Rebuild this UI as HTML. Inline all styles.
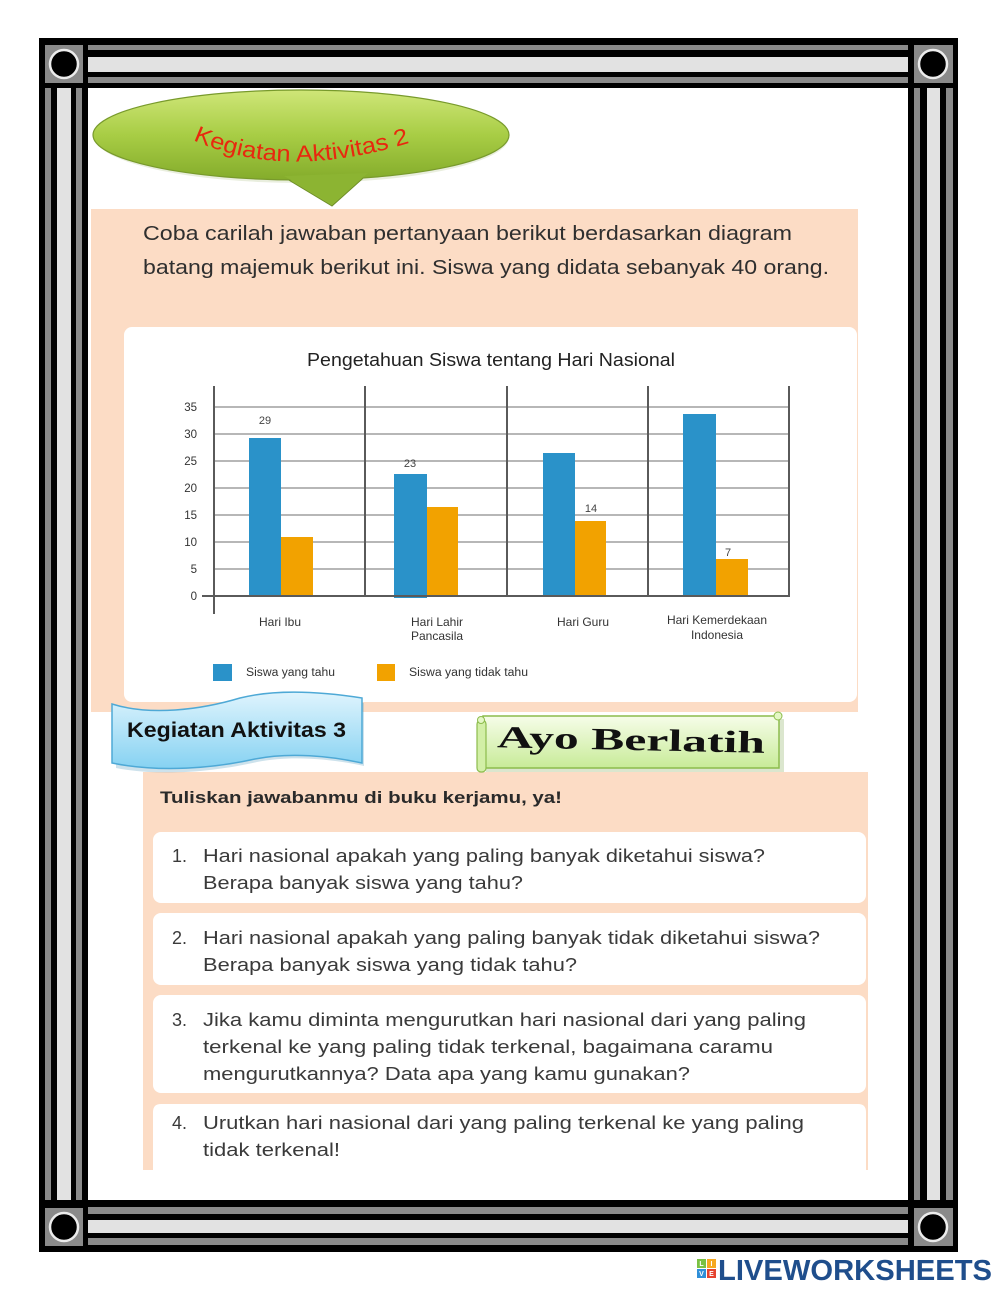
<!DOCTYPE html>
<html>
<head>
<meta charset="utf-8">
<style>
html,body{margin:0;padding:0;background:#fff;}
body{width:1000px;height:1291px;overflow:hidden;}
svg{display:block;}
</style>
</head>
<body>
<svg width="1000" height="1291" viewBox="0 0 1000 1291" xmlns="http://www.w3.org/2000/svg">
<defs>
  <linearGradient id="gOval" x1="0" y1="0" x2="0" y2="1">
    <stop offset="0" stop-color="#cfe678"/>
    <stop offset="0.5" stop-color="#a8cd45"/>
    <stop offset="1" stop-color="#84ac2b"/>
  </linearGradient>
  <linearGradient id="gBlue" x1="0" y1="0" x2="0" y2="1">
    <stop offset="0" stop-color="#dff4fd"/>
    <stop offset="1" stop-color="#86d2f2"/>
  </linearGradient>
  <linearGradient id="gGreen" x1="0" y1="0" x2="0" y2="1">
    <stop offset="0" stop-color="#f6fde9"/>
    <stop offset="1" stop-color="#c8eb98"/>
  </linearGradient>
  <path id="arc2" d="M193,140 Q285,182 412,142"/>
</defs>

<!-- ===== Border frame ===== -->
<rect x="39" y="38" width="919" height="1214" fill="#000"/>
<rect x="88" y="88" width="820" height="1112" fill="#fff"/>
<rect x="88" y="45" width="820" height="5" fill="#8a8a8a"/>
<rect x="88" y="57" width="820" height="15" fill="#e2e2e2"/>
<rect x="88" y="77" width="820" height="6" fill="#8a8a8a"/>
<rect x="88" y="1207" width="820" height="7" fill="#8a8a8a"/>
<rect x="88" y="1220" width="820" height="13" fill="#e2e2e2"/>
<rect x="88" y="1238" width="820" height="7" fill="#8a8a8a"/>
<rect x="45" y="88" width="6" height="1112" fill="#8a8a8a"/>
<rect x="57" y="88" width="14" height="1112" fill="#e2e2e2"/>
<rect x="76" y="88" width="6" height="1112" fill="#8a8a8a"/>
<rect x="914" y="88" width="6" height="1112" fill="#8a8a8a"/>
<rect x="927" y="88" width="13" height="1112" fill="#e2e2e2"/>
<rect x="946" y="88" width="7" height="1112" fill="#8a8a8a"/>
<rect x="45" y="45" width="38" height="38" fill="#8a8a8a"/>
<rect x="914" y="45" width="39" height="38" fill="#8a8a8a"/>
<rect x="45" y="1208" width="38" height="38" fill="#8a8a8a"/>
<rect x="914" y="1208" width="39" height="38" fill="#8a8a8a"/>
<circle cx="64" cy="64" r="14" fill="#000" stroke="#ececec" stroke-width="2.5"/>
<circle cx="933" cy="64" r="14" fill="#000" stroke="#ececec" stroke-width="2.5"/>
<circle cx="64" cy="1227" r="14" fill="#000" stroke="#ececec" stroke-width="2.5"/>
<circle cx="933" cy="1227" r="14" fill="#000" stroke="#ececec" stroke-width="2.5"/>

<!-- ===== Peach panel 1 ===== -->
<rect x="91" y="209" width="767" height="503" fill="#fcdcc5"/>
<text x="143" y="240" font-family="Liberation Sans, sans-serif" font-size="20" fill="#2f2f2f" textLength="649" lengthAdjust="spacingAndGlyphs">Coba carilah jawaban pertanyaan berikut berdasarkan diagram</text>
<text x="143" y="274" font-family="Liberation Sans, sans-serif" font-size="20" fill="#2f2f2f" textLength="686" lengthAdjust="spacingAndGlyphs">batang majemuk berikut ini. Siswa yang didata sebanyak 40 orang.</text>

<rect x="124" y="327" width="733" height="375" rx="8" fill="#fff"/>
<text x="307" y="366" font-family="Liberation Sans, sans-serif" font-size="18" fill="#222" textLength="368" lengthAdjust="spacingAndGlyphs">Pengetahuan Siswa tentang Hari Nasional</text>

<g stroke="#8c8c8c" stroke-width="1.3">
  <line x1="214" y1="407" x2="789" y2="407"/>
  <line x1="214" y1="434" x2="789" y2="434"/>
  <line x1="214" y1="461" x2="789" y2="461"/>
  <line x1="214" y1="488" x2="789" y2="488"/>
  <line x1="214" y1="515" x2="789" y2="515"/>
  <line x1="214" y1="542" x2="789" y2="542"/>
  <line x1="214" y1="569" x2="789" y2="569"/>
</g>
<g stroke="#5a5a5a" stroke-width="2">
  <line x1="214" y1="386" x2="214" y2="614"/>
  <line x1="365" y1="386" x2="365" y2="596"/>
  <line x1="507" y1="386" x2="507" y2="596"/>
  <line x1="648" y1="386" x2="648" y2="596"/>
  <line x1="789" y1="386" x2="789" y2="596"/>
</g>

<g>
  <rect x="249" y="438" width="32" height="158" fill="#2a92c9"/>
  <rect x="281" y="537" width="32" height="59" fill="#f2a200"/>
  <rect x="394" y="474" width="33" height="124" fill="#2a92c9"/>
  <rect x="427" y="507" width="31" height="89" fill="#f2a200"/>
  <rect x="543" y="453" width="32" height="143" fill="#2a92c9"/>
  <rect x="575" y="521" width="31" height="75" fill="#f2a200"/>
  <rect x="683" y="414" width="33" height="182" fill="#2a92c9"/>
  <rect x="716" y="559" width="32" height="37" fill="#f2a200"/>
</g>
<line x1="202" y1="596" x2="790" y2="596" stroke="#5a5a5a" stroke-width="2"/>

<g font-family="Liberation Sans, sans-serif" font-size="11.5" fill="#333" text-anchor="end">
  <text x="197" y="411">35</text>
  <text x="197" y="438">30</text>
  <text x="197" y="465">25</text>
  <text x="197" y="492">20</text>
  <text x="197" y="519">15</text>
  <text x="197" y="546">10</text>
  <text x="197" y="573">5</text>
  <text x="197" y="600">0</text>
</g>
<g font-family="Liberation Sans, sans-serif" font-size="11" fill="#444" text-anchor="middle">
  <text x="265" y="424">29</text>
  <text x="410" y="467">23</text>
  <text x="591" y="512">14</text>
  <text x="728" y="556">7</text>
</g>
<g font-family="Liberation Sans, sans-serif" font-size="12" fill="#333">
  <text x="280" y="626" text-anchor="middle">Hari Ibu</text>
  <text x="411" y="626">Hari Lahir</text>
  <text x="411" y="640">Pancasila</text>
  <text x="583" y="626" text-anchor="middle">Hari Guru</text>
  <text x="717" y="624" text-anchor="middle">Hari Kemerdekaan</text>
  <text x="717" y="639" text-anchor="middle">Indonesia</text>
</g>
<rect x="213" y="664" width="19" height="17" fill="#2a92c9"/>
<rect x="377" y="664" width="18" height="17" fill="#f2a200"/>
<g font-family="Liberation Sans, sans-serif" font-size="11.5" fill="#333">
  <text x="246" y="676" textLength="89" lengthAdjust="spacingAndGlyphs">Siswa yang tahu</text>
  <text x="409" y="676" textLength="119" lengthAdjust="spacingAndGlyphs">Siswa yang tidak tahu</text>
</g>

<!-- ===== Green oval callout ===== -->
<ellipse cx="302" cy="137" rx="207" ry="46" fill="#6a8a20" opacity="0.15"/>
<path d="M282,176 L332,206 L370,172 Z" fill="#8fb634" stroke="#6e8e28" stroke-width="1"/>
<ellipse cx="301" cy="135" rx="208" ry="45" fill="url(#gOval)" stroke="#789a2c" stroke-width="1.2"/>
<path d="M284,176 L332,204 L368,173 Z" fill="#8cb432"/>
<text font-family="Liberation Sans, sans-serif" font-size="23" fill="#e8280e">
  <textPath href="#arc2" textLength="222" lengthAdjust="spacingAndGlyphs">Kegiatan Aktivitas 2</textPath>
</text>

<!-- ===== Peach panel 2 ===== -->
<rect x="143" y="772" width="725" height="398" fill="#fcdcc5"/>
<text x="160" y="803" font-family="Liberation Sans, sans-serif" font-size="17" font-weight="bold" fill="#2a2a2a" textLength="402" lengthAdjust="spacingAndGlyphs">Tuliskan jawabanmu di buku kerjamu, ya!</text>

<rect x="153" y="832" width="713" height="71" rx="8" fill="#fff"/>
<rect x="153" y="913" width="713" height="72" rx="8" fill="#fff"/>
<rect x="153" y="995" width="713" height="98" rx="8" fill="#fff"/>
<path d="M153,1170 L153,1112 Q153,1104 161,1104 L858,1104 Q866,1104 866,1112 L866,1170 Z" fill="#fff"/>

<g font-family="Liberation Sans, sans-serif" font-size="18" fill="#3a3a3a">
  <text x="172" y="862">1.</text>
  <text x="203" y="862" textLength="562" lengthAdjust="spacingAndGlyphs">Hari nasional apakah yang paling banyak diketahui siswa?</text>
  <text x="203" y="889" textLength="320" lengthAdjust="spacingAndGlyphs">Berapa banyak siswa yang tahu?</text>
  <text x="172" y="944">2.</text>
  <text x="203" y="944" textLength="617" lengthAdjust="spacingAndGlyphs">Hari nasional apakah yang paling banyak tidak diketahui siswa?</text>
  <text x="203" y="971" textLength="374" lengthAdjust="spacingAndGlyphs">Berapa banyak siswa yang tidak tahu?</text>
  <text x="172" y="1026">3.</text>
  <text x="203" y="1026" textLength="603" lengthAdjust="spacingAndGlyphs">Jika kamu diminta mengurutkan hari nasional dari yang paling</text>
  <text x="203" y="1053" textLength="570" lengthAdjust="spacingAndGlyphs">terkenal ke yang paling tidak terkenal, bagaimana caramu</text>
  <text x="203" y="1080" textLength="487" lengthAdjust="spacingAndGlyphs">mengurutkannya? Data apa yang kamu gunakan?</text>
  <text x="172" y="1129">4.</text>
  <text x="203" y="1129" textLength="601" lengthAdjust="spacingAndGlyphs">Urutkan hari nasional dari yang paling terkenal ke yang paling</text>
  <text x="203" y="1156" textLength="137" lengthAdjust="spacingAndGlyphs">tidak terkenal!</text>
</g>

<!-- ===== Kegiatan Aktivitas 3 banner ===== -->
<path d="M114,707 C150,718 200,712 240,700 C280,690 330,695 362,700 L362,763 C330,756 290,752 255,759 C215,768 160,774 114,765 Z" fill="#5aa0c0" opacity="0.3" transform="translate(2,3)"/>
<path d="M112,704 C150,716 200,710 240,698 C280,688 330,693 362,698 L362,763 C330,756 290,752 255,759 C215,768 160,773 112,763 Z" fill="url(#gBlue)" stroke="#4ea9d6" stroke-width="1.5"/>
<text x="127" y="737" font-family="Liberation Sans, sans-serif" font-size="21" font-weight="bold" fill="#111" textLength="219" lengthAdjust="spacingAndGlyphs">Kegiatan Aktivitas 3</text>

<!-- ===== Ayo Berlatih scroll ===== -->
<rect x="486" y="719" width="298" height="53" fill="#6f9a3a" opacity="0.25"/>
<rect x="483" y="716" width="296" height="52" fill="url(#gGreen)" stroke="#8cbc4c" stroke-width="1.5"/>
<rect x="477" y="720" width="9" height="52" rx="4" fill="#d2efa6" stroke="#8cbc4c" stroke-width="1.2"/>
<circle cx="481" cy="720" r="3.5" fill="#e4f7c6" stroke="#8cbc4c" stroke-width="1"/>
<circle cx="778" cy="716" r="4" fill="#e4f7c6" stroke="#8cbc4c" stroke-width="1"/>
<text x="497" y="750" font-family="Liberation Serif, serif" font-size="31" font-weight="bold" fill="#111" textLength="268" lengthAdjust="spacingAndGlyphs" transform="rotate(1.2 630 740)">Ayo Berlatih</text>

<!-- ===== Logo ===== -->
<rect x="697" y="1259" width="9" height="9" fill="#7ac143"/>
<rect x="707" y="1259" width="9" height="9" fill="#f6a821"/>
<rect x="697" y="1269" width="9" height="9" fill="#2f8fd8"/>
<rect x="707" y="1269" width="9" height="9" fill="#e5432f"/>
<g font-family="Liberation Sans, sans-serif" font-size="7" font-weight="bold" fill="#fff" text-anchor="middle">
  <text x="701.5" y="1266">L</text>
  <text x="711.5" y="1266">I</text>
  <text x="701.5" y="1276">V</text>
  <text x="711.5" y="1276">E</text>
</g>
<text x="718" y="1280" font-family="Liberation Sans, sans-serif" font-size="29" font-weight="bold" fill="#1f4e8c" textLength="274" lengthAdjust="spacingAndGlyphs">LIVEWORKSHEETS</text>
</svg>
</body>
</html>
